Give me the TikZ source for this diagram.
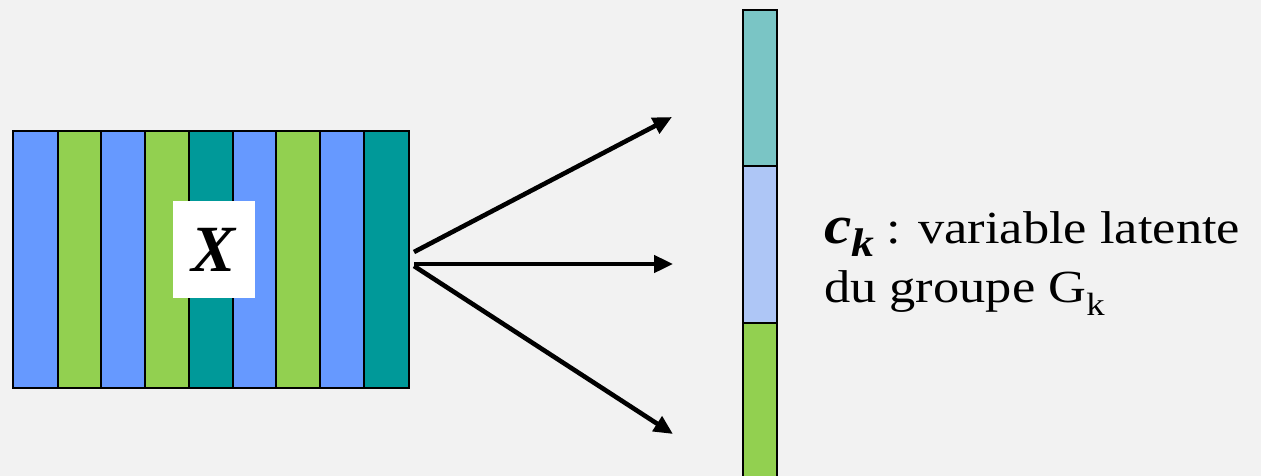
\documentclass[tikz,border=0pt]{standalone}
\usepackage{fontspec}
\setmainfont{Liberation Serif}
\newfontfamily\labfont[FakeStretch=1.14]{Liberation Serif}
\usetikzlibrary{arrows.meta}
\definecolor{bg}{HTML}{F2F2F2}
\definecolor{cblue}{HTML}{6699FF}
\definecolor{cgreen}{HTML}{92D050}
\definecolor{cteal}{HTML}{009999}
\definecolor{lteal}{HTML}{7AC5C5}
\definecolor{lblue}{HTML}{AEC6F6}
\tikzset{
  col/.style={draw=black, line width=1.4pt},
  seg/.style={draw=black, line width=1.4pt},
  arr/.style={line width=4.6pt, -{Triangle[length=19pt,width=17pt]}},
  lab/.style={anchor=base west, inner sep=0pt, font=\labfont\fontsize{46}{60}\selectfont},
}
\begin{document}
\begin{tikzpicture}[x=1pt,y=-1pt]
\fill[bg] (0,0) rectangle (1261,476);
\useasboundingbox (0,0) rectangle (1261,476);
% data matrix columns
\foreach \xa/\xb/\c in {13/58/cblue,58/101/cgreen,101/145/cblue,145/189/cgreen,189/233/cteal,233/276/cblue,276/320/cgreen,320/364/cblue,364/409/cteal}{
  \filldraw[col, fill=\c] (\xa,131) rectangle (\xb,388);
}
\node[fill=white, minimum width=82pt, minimum height=97pt, inner sep=0pt, font=\fontsize{66}{70}\selectfont\bfseries\itshape] (X) at (214,249.5) {X};
% latent vector
\filldraw[seg, fill=lteal] (743,10) rectangle (777,166);
\filldraw[seg, fill=lblue] (743,166) rectangle (777,323);
\filldraw[seg, fill=cgreen] (743,323) rectangle (777,480);
\coordinate (t1) at (672,117);
\coordinate (t2) at (673,264);
\coordinate (t3) at (673,434);
\coordinate (s1) at (414,252);
\coordinate (s2) at (414,264);
\coordinate (s3) at (414,266);
\draw[arr] (s1) -- (t1);
\draw[arr] (s2) -- (t2);
\draw[arr] (s3) -- (t3);
% label
\node[lab] (lab1) at (824,243) {{\fontsize{54}{60}\selectfont\bfseries\itshape c\raisebox{-13pt}{\fontsize{40}{44}\selectfont k}}\hspace{12pt}: variable latente};
\node[lab] (lab2) at (824,302) {du groupe G\textsubscript{k}};
\end{tikzpicture}
\end{document}
